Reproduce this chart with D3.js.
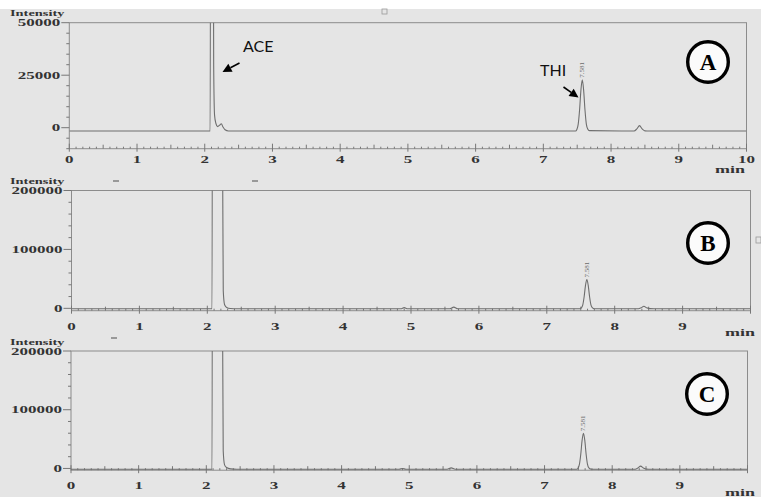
<!DOCTYPE html>
<html><head><meta charset="utf-8">
<script src="https://cdn.jsdelivr.net/npm/d3@7"></script>
<style>html,body{margin:0;padding:0;background:#fff;}svg{display:block;}</style>
</head><body>
<svg id="chart" width="761" height="497"></svg>
<script>
// ---------------- data ----------------
const xTickLabelsA = ["0","1","2","3","4","5","6","7","8","9","10"];
const xTickLabelsBC = ["0","1","2","3","4","5","6","7","8","9"];
const yTicksA = [0, 25000, 50000];
const yTicksBC = [0, 100000, 200000];
const panelLetters = ["A", "B", "C"];
const peakLabel = "7.581";
const annotations = ["ACE", "THI"];

// Chromatogram A (time, min / intensity)
const timeA = [0, 2.08, 2.09, 2.12, 2.132, 2.145, 2.165, 2.19, 2.22, 2.245, 2.27, 2.3, 2.35,
  7.475, 7.495, 7.515, 7.535, 7.555, 7.575, 7.595, 7.615, 7.635, 7.655, 7.68,
  8.34, 8.38, 8.42, 8.46, 8.5, 8.56, 10];
const intensityA = [-1600, -1600, 200000, 200000, 30000, 6000, 2000, 500, 1200, 1900, 300, -1000, -1600,
  -1600, -870, 1700, 8400, 17900, 22800, 17900, 8400, 1700, -600, -1400,
  -1600, -600, 1000, -600, -1500, -1600, -1600];

// Chromatogram B
const timeB = [0, 2.07, 2.08, 2.19, 2.22, 2.235, 2.255, 2.285, 2.34, 2.44,
  4.85, 4.9, 4.95, 5.57, 5.63, 5.69,
  7.49, 7.51, 7.53, 7.55, 7.57, 7.59, 7.61, 7.63, 7.65, 7.67, 7.70,
  8.35, 8.39, 8.43, 8.47, 8.52, 8.58, 10];
const intensityB = [-700, -700, 900000, 900000, 400000, 30000, 6000, 1500, -300, -700,
  -700, 1200, -700, -700, 2000, -700,
  -700, 790, 6000, 19700, 39000, 49000, 39000, 19700, 6000, 1200, -600,
  -700, 1000, 3500, 1000, -500, -700, -700];

// Chromatogram C
const timeC = [0, 2.085, 2.095, 2.21, 2.235, 2.25, 2.27, 2.3, 2.36, 2.45,
  4.85, 4.9, 4.95, 5.56, 5.62, 5.68,
  7.475, 7.495, 7.515, 7.535, 7.555, 7.575, 7.595, 7.615, 7.635, 7.655, 7.69,
  8.34, 8.38, 8.42, 8.46, 8.51, 8.57, 10];
const intensityC = [-1500, -1500, 900000, 900000, 400000, 30000, 6000, 1500, -800, -1500,
  -1500, 0, -1500, -1500, 1000, -1500,
  -1500, 350, 6800, 23700, 47700, 60000, 47700, 23700, 6800, 900, -1400,
  -1500, 800, 4000, 800, -1200, -1500, -1500];

// ---------------- layout ----------------
const panels = [
  {t: timeA, v: intensityA, yTicks: yTicksA, yMinor: 5000, yDom: [-10000, 50000],
   x0: 69.3, x1: 746.5, top: 22.7, bottom: 148.7, xLabels: xTickLabelsA, xLabelY: 163,
   min: [730, 173], letter: [708, 62], intensityY: 15.5},
  {t: timeB, v: intensityB, yTicks: yTicksBC, yMinor: 20000, yDom: [-4000, 200000],
   x0: 71.5, x1: 750.5, top: 190.5, bottom: 310.7, xLabels: xTickLabelsBC, xLabelY: 330,
   min: [740, 336], letter: [708, 243], intensityY: 184},
  {t: timeC, v: intensityC, yTicks: yTicksBC, yMinor: 20000, yDom: [-3000, 200000],
   x0: 71, x1: 747.5, top: 351, bottom: 470.2, xLabels: xTickLabelsBC, xLabelY: 489,
   min: [740, 496], letter: [707, 394], intensityY: 344.5}
];

const svg = d3.select("#chart");
svg.append("rect").attr("width", 761).attr("height", 497).attr("fill", "#ffffff");
svg.append("rect").attr("y", 9).attr("width", 761).attr("height", 488).attr("fill", "#e5e5e5");

const serif = "'Liberation Serif','DejaVu Serif',serif";
const lineCol = "#6e6e6e";
const frameCol = "#8c8c8c";
const textCol = "#333333";

function sText(g, x, y, str, o) {
  return g.append("text")
    .attr("transform", `translate(${x},${y}) scale(${o.sx || 1.7},1)`)
    .attr("text-anchor", o.anchor || "middle")
    .attr("font-family", o.font || serif)
    .attr("font-size", o.size || 10)
    .attr("font-weight", o.weight || "bold")
    .attr("fill", o.fill || textCol)
    .text(str);
}

// small scan marks seen in the reference
svg.append("rect").attr("x", 382).attr("y", 9).attr("width", 5).attr("height", 5)
  .attr("fill", "none").attr("stroke", "#999").attr("stroke-width", 0.8);
svg.append("rect").attr("x", 756).attr("y", 237).attr("width", 5).attr("height", 6)
  .attr("fill", "none").attr("stroke", "#999").attr("stroke-width", 0.8);
[[113, 181], [252, 181], [111, 338]].forEach(d => {
  svg.append("line").attr("x1", d[0]).attr("x2", d[0] + 6).attr("y1", d[1]).attr("y2", d[1])
    .attr("stroke", "#666").attr("stroke-width", 1.2);
});

panels.forEach((p, i) => {
  const g = svg.append("g");
  const x = d3.scaleLinear().domain([0, 10]).range([p.x0, p.x1]);
  const y = d3.scaleLinear().domain(p.yDom).range([p.bottom, p.top]);

  // frame
  g.append("rect").attr("x", p.x0).attr("y", p.top)
    .attr("width", p.x1 - p.x0).attr("height", p.bottom - p.top)
    .attr("fill", "none").attr("stroke", frameCol).attr("stroke-width", 1);

  // y minor/major ticks
  const minorY = d3.range(Math.ceil(p.yDom[0] / p.yMinor) * p.yMinor, p.yDom[1] + 1, p.yMinor);
  minorY.forEach(v => {
    const major = p.yTicks.includes(v);
    g.append("line").attr("x1", p.x0 - (major ? 8 : 3)).attr("x2", p.x0)
      .attr("y1", y(v)).attr("y2", y(v)).attr("stroke", "#777").attr("stroke-width", 1);
  });
  p.yTicks.forEach(v => {
    sText(g, p.x0 - 9, y(v) + 3.5, d3.format("d")(v), {anchor: "end", sx: 1.7});
  });
  sText(g, 10, p.intensityY, "Intensity", {anchor: "start", sx: 1.6, size: 9});

  // x ticks
  d3.range(0, 101).forEach(k => {
    const tv = k / 10;
    let y1 = p.bottom - 2, y2 = p.bottom;
    if (k % 10 === 0) { y1 = p.bottom - 5; y2 = p.bottom + 3; }
    else if (k % 5 === 0) { y1 = p.bottom - 4; }
    g.append("line").attr("x1", x(tv)).attr("x2", x(tv)).attr("y1", y1).attr("y2", y2)
      .attr("stroke", "#777").attr("stroke-width", 1);
  });
  p.xLabels.forEach(l => {
    sText(g, x(+l), p.xLabelY, l, {anchor: "middle", sx: 1.7});
  });
  sText(g, p.min[0], p.min[1], "min", {anchor: "middle", sx: 1.8});

  // trace
  const cid = "clip" + i;
  svg.append("clipPath").attr("id", cid).append("rect")
    .attr("x", p.x0).attr("y", p.top).attr("width", p.x1 - p.x0).attr("height", p.bottom - p.top);
  const pts = p.t.map((t, j) => [t, p.v[j]]);
  g.append("path").datum(pts)
    .attr("clip-path", `url(#${cid})`)
    .attr("d", d3.line().x(d => x(d[0])).y(d => y(d[1])).curve(d3.curveMonotoneX))
    .attr("fill", "none").attr("stroke", lineCol).attr("stroke-width", 1.1);

  // peak label above THI
  const late = pts.filter(d => d[0] > 7 && d[0] < 8);
  const pk = late.reduce((a, b) => (b[1] > a[1] ? b : a));
  g.append("text")
    .attr("transform", `translate(${x(pk[0]) + 2},${y(pk[1]) - 2}) rotate(-90)`)
    .attr("text-anchor", "start").attr("font-family", serif).attr("font-size", 7)
    .attr("fill", "#6a6a6a").text(peakLabel);

  // circled letter
  g.append("circle").attr("cx", p.letter[0]).attr("cy", p.letter[1]).attr("r", 20.3)
    .attr("fill", "#fbfbfb").attr("stroke", "#000").attr("stroke-width", 3.4);
  g.append("text").attr("x", p.letter[0]).attr("y", p.letter[1] + 8)
    .attr("text-anchor", "middle").attr("font-family", serif).attr("font-weight", "bold")
    .attr("font-size", 23).attr("fill", "#000").text(panelLetters[i]);
});

// annotations (panel A)
function arrow(x1, y1, x2, y2) {
  const a = Math.atan2(y2 - y1, x2 - x1), L = 9, W = 4.5;
  const bx = x2 - L * Math.cos(a), by = y2 - L * Math.sin(a);
  svg.append("line").attr("x1", x1).attr("y1", y1).attr("x2", bx).attr("y2", by)
    .attr("stroke", "#000").attr("stroke-width", 1.6);
  svg.append("path").attr("d",
    `M${x2},${y2}L${bx + W * Math.sin(a)},${by - W * Math.cos(a)}L${bx - W * Math.sin(a)},${by + W * Math.cos(a)}Z`)
    .attr("fill", "#000");
}
svg.append("text").attr("x", 243).attr("y", 52).attr("font-family", "Lato,'Open Sans',sans-serif")
  .attr("font-size", 16).attr("fill", "#111").text(annotations[0]);
arrow(239.5, 63, 222.5, 72);
svg.append("text").attr("x", 540).attr("y", 76).attr("font-family", "Lato,'Open Sans',sans-serif")
  .attr("font-size", 16).attr("fill", "#111").text(annotations[1]);
arrow(563.5, 87, 578.5, 97.5);
</script>
</body></html>
